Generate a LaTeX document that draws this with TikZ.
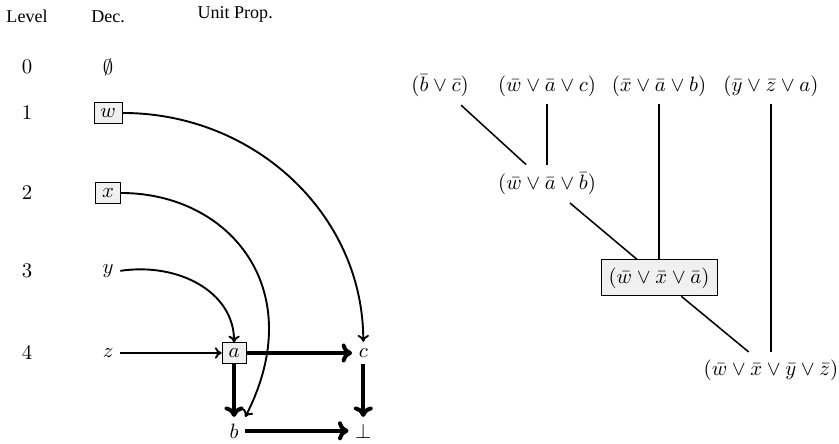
\documentclass[tikz,border=0pt]{standalone}
\usepackage{fontspec}
\usetikzlibrary{arrows.meta}
\newfontfamily\headfont{Liberation Serif}

\tikzset{
  every node/.style={font=\fontsize{10.5}{12}\selectfont},
  header/.style={font=\headfont\fontsize{9.5}{11}\selectfont},
  decbox/.style={draw, fill=gray!12, inner xsep=3.4pt, inner ysep=3pt},
  clause/.style={inner sep=4pt},
  learnt/.style={clause, draw, fill=gray!12},
  impl/.style={line width=1pt, -{To[length=3.6pt,width=6pt]}},
  confl/.style={line width=2.1pt, -{To[length=5.5pt,width=10pt]}},
}

\begin{document}
\begin{tikzpicture}
\useasboundingbox (0,0) rectangle (15.52,-8.21);

% headers
\node [header] (hlev) at (0.50,-0.31) {Level};
\node [header] (hdec) at (2.00,-0.31) {Dec.};
\node [header] (hup)  at (4.35,-0.27) {Unit Prop.};

% levels
\node (l0) at (0.50,-1.24) {$0$};
\node (l1) at (0.50,-2.09) {$1$};
\node (l2) at (0.50,-3.57) {$2$};
\node (l3) at (0.50,-5.01) {$3$};
\node (l4) at (0.50,-6.53) {$4$};

% decisions and implied literals
\node (d0) at (2.00,-1.24) {$\emptyset$};
\node [decbox] (dw) at (2.00,-2.09) {$w$};
\node [decbox] (dx) at (2.00,-3.57) {$x$};
\node (dy) at (2.00,-5.01) {$y$};
\node (dz) at (2.00,-6.53) {$z$};
\node [decbox] (pa) at (4.33,-6.53) {$a$};
\node (pc) at (6.72,-6.53) {$c$};
\node (pb) at (4.33,-7.97) {$b$};
\node (pf) at (6.72,-7.97) {$\bot$};

\begin{scope}[impl]
\draw (dw.east) .. controls (4.72,-2.09) and (6.72,-3.98) .. (pc.north);
\draw (dx.east) .. controls (4.26,-3.57) and (5.74,-5.37) .. (pb.north east);
\draw (dy.east) .. controls (3.30,-4.85) and (4.33,-5.40) .. (pa.north);
\draw (dz) -- (pa);
\end{scope}

\begin{scope}[confl]
\draw (pa) -- (pc);
\draw (pa) -- (pb);
\draw (pc) -- (pf);
\draw (pb) -- (pf);
\end{scope}

% resolution
\node [clause] (c1) at (8.14,-1.59) {$(\bar{b} \vee \bar{c})$};
\node [clause] (c2) at (10.12,-1.59) {$(\bar{w} \vee \bar{a} \vee c)$};
\node [clause] (c3) at (12.19,-1.59) {$(\bar{x} \vee \bar{a} \vee b)$};
\node [clause] (c4) at (14.26,-1.59) {$(\bar{y} \vee \bar{z} \vee a)$};
\node [clause] (r1) at (10.12,-3.40) {$(\bar{w} \vee \bar{a} \vee \bar{b})$};
\node [learnt] (r2) at (12.19,-5.14) {$(\bar{w} \vee \bar{x} \vee \bar{a})$};
\node [clause] (r3) at (14.26,-6.85) {$(\bar{w} \vee \bar{x} \vee \bar{y} \vee \bar{z})$};

\begin{scope}[thick]
\draw (c1) -- (r1);
\draw (c2) -- (r1);
\draw (r1) -- (r2);
\draw (c3) -- (r2);
\draw (r2) -- (r3);
\draw (c4) -- (r3);
\end{scope}

\end{tikzpicture}
\end{document}
